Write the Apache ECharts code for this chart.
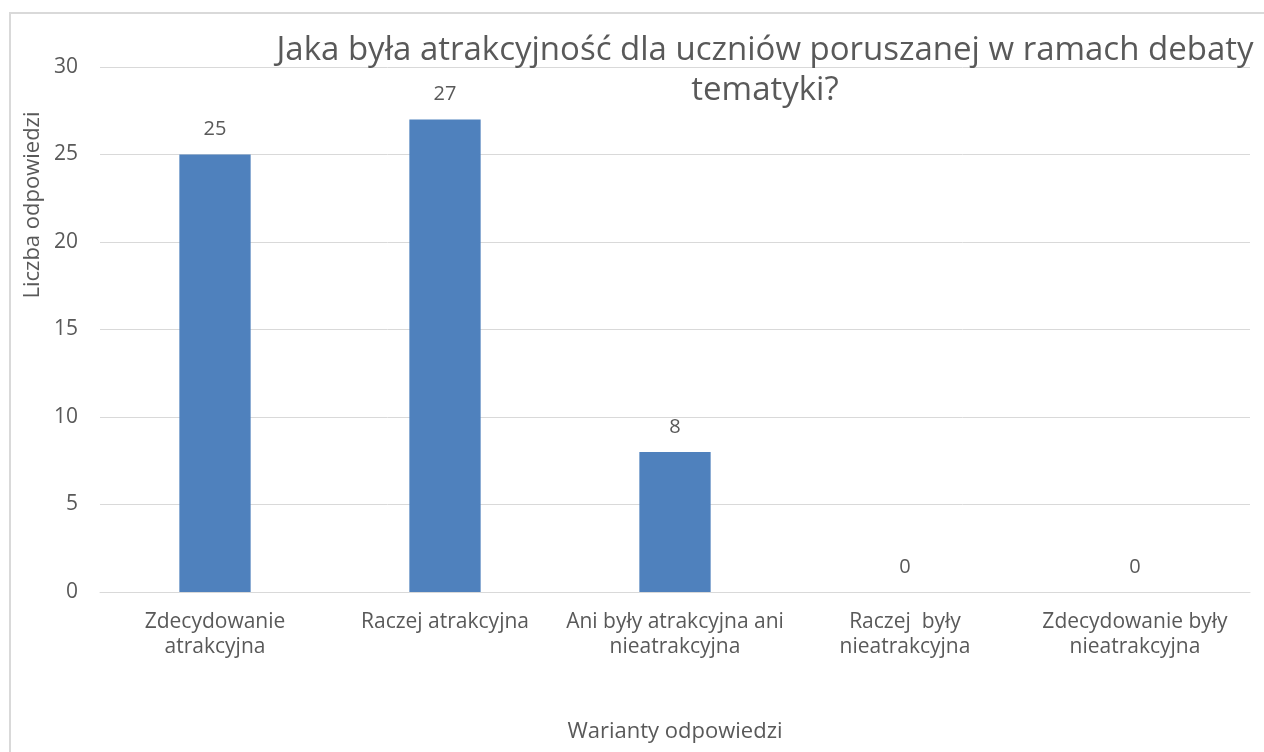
<!DOCTYPE html>
<html>
<head>
<meta charset="utf-8">
<script src="https://cdn.jsdelivr.net/npm/echarts@6/dist/echarts.min.js"></script>
<style>
  html, body { margin: 0; padding: 0; background: #fff; }
  #chart { width: 1264px; height: 752px; }
</style>
</head>
<body>
<div id="chart"></div>
<script>
const titleText = "Jaka była atrakcyjność dla uczniów poruszanej w ramach debaty\ntematyki?";
const categories = [
  "Zdecydowanie\natrakcyjna",
  "Raczej atrakcyjna",
  "Ani były atrakcyjna ani\nnieatrakcyjna",
  "Raczej  były\nnieatrakcyjna",
  "Zdecydowanie były\nnieatrakcyjna",
];
const counts = [25, 27, 8, 0, 0];
const yTicks = { min: 0, max: 30, interval: 5 };

const FONT = "'Liberation Sans Narrow', 'Open Sans', sans-serif";
const TEXT = "#595959";

const chart = echarts.init(document.getElementById("chart"));

chart.setOption({
  animation: false,
  textStyle: { fontFamily: FONT },
  title: {
    text: titleText,
    left: 760,
    top: 26,
    textAlign: "center",
    textStyle: { color: TEXT, fontSize: 33, fontWeight: "normal", lineHeight: 40, fontFamily: FONT },
  },
  graphic: [
    {
      type: "rect",
      shape: { x: 10, y: 13, width: 1400, height: 900 },
      style: { fill: "none", stroke: "#d9d9d9", lineWidth: 2 },
      silent: true,
    },
    {
      type: "text",
      x: 33,
      y: 205,
      rotation: Math.PI / 2,
      style: {
        text: "Liczba odpowiedzi",
        fill: TEXT,
        fontSize: 22,
        fontFamily: FONT,
        align: "center",
        verticalAlign: "middle",
      },
    },
  ],
  grid: { left: 100, right: 14, top: 67, bottom: 160 },
  xAxis: {
    type: "category",
    data: categories,
    name: "Warianty odpowiedzi",
    nameLocation: "middle",
    nameGap: 129,
    nameTextStyle: { color: TEXT, fontSize: 22, fontFamily: FONT },
    axisLine: { lineStyle: { color: "#d9d9d9", width: 1 } },
    axisTick: { show: false },
    axisLabel: { color: TEXT, fontSize: 21, lineHeight: 25, margin: 18, interval: 0, fontFamily: FONT },
  },
  yAxis: {
    type: "value",
    min: yTicks.min,
    max: yTicks.max,
    interval: yTicks.interval,
    axisLine: { show: false },
    axisTick: { show: false },
    axisLabel: { color: TEXT, fontSize: 21, margin: 22, fontFamily: FONT },
    splitLine: { lineStyle: { color: "#d9d9d9", width: 1 } },
  },
  series: [
    {
      type: "bar",
      data: counts,
      barWidth: "31%",
      itemStyle: { color: "#4f81bd" },
      label: {
        show: true,
        position: "top",
        distance: 15,
        color: TEXT,
        fontSize: 20,
        fontFamily: FONT,
      },
    },
  ],
});
</script>
</body>
</html>
